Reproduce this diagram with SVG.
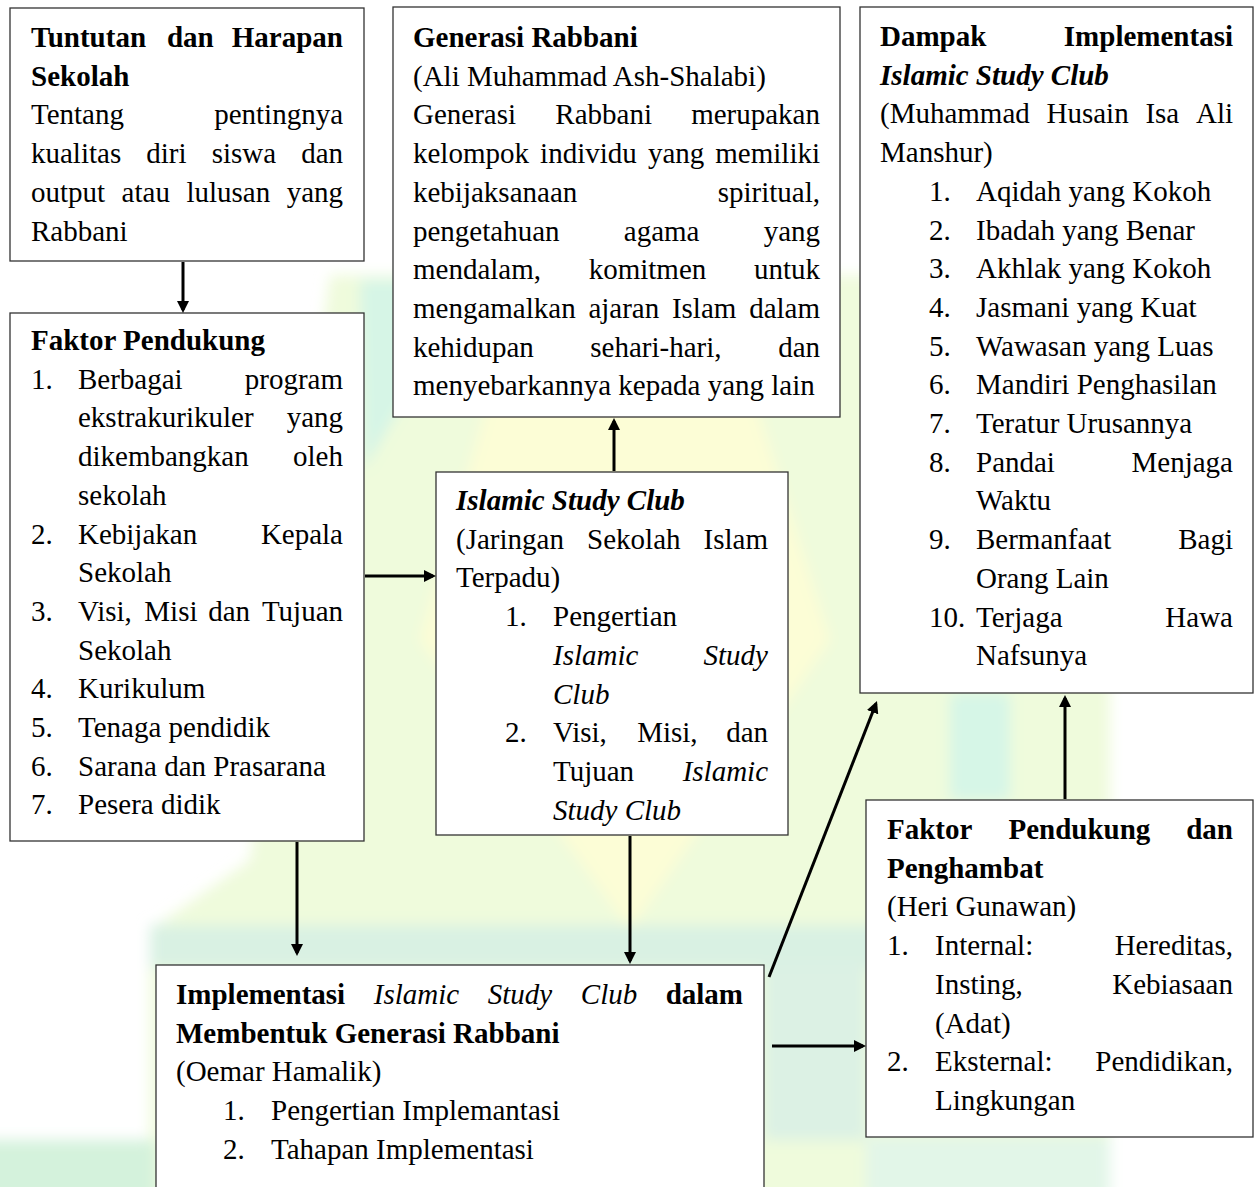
<svg xmlns="http://www.w3.org/2000/svg" width="1255" height="1187" viewBox="0 0 1255 1187">
<style>
text{font-family:"Liberation Serif","Times New Roman",serif;font-size:29px;fill:#000}
.b{font-weight:bold}
.i{font-style:italic}
.e{text-anchor:end}
.box{fill:#fff;stroke:#333;stroke-width:1.3}
.conn path{stroke:#000;stroke-width:3;fill:none;marker-end:url(#ah)}
</style>
<defs>
<marker id="ah" markerUnits="userSpaceOnUse" markerWidth="12" markerHeight="12" refX="9" refY="6" orient="auto"><path d="M0,0 L12,6 L0,12 z" fill="#000"/></marker>
<filter id="soft" x="-5%" y="-5%" width="110%" height="110%"><feGaussianBlur stdDeviation="7"/></filter>
</defs>
<rect width="1255" height="1187" fill="#fff"/>

<g id="watermark" filter="url(#soft)">
<path d="M330,275 L1000,275 L1110,690 L1110,1200 L150,1200 L150,930 L250,860 Z" fill="#effbdc"/>
<path d="M520,290 L720,290 L830,640 L630,930 L420,640 Z" fill="#fcfdd6"/>
<path d="M360,280 L445,280 L445,330 L364,470 Z" fill="#d6f5e6"/>
<path d="M150,925 L880,925 L880,968 L150,968 Z" fill="#d9f1e3"/>
<path d="M764,965 L866,965 L866,1140 L764,1140 Z" fill="#dcf1e4"/>
<path d="M950,693 L1010,693 L1010,800 L950,800 Z" fill="#d6f6e7"/>
<path d="M-20,1140 L156,1140 L156,1200 L-20,1200 Z" fill="#d4f2dc"/>
<path d="M866,1137 L1110,1137 L1110,1200 L866,1200 Z" fill="#e2f6e8"/>
</g>

<g id="n-tuntutan">
<rect class="box" x="10" y="8" width="354" height="253"/>
<text class="b" x="31" y="47">Tuntutan</text><text class="b" x="166.9" y="47">dan</text><text class="b e" x="343" y="47">Harapan</text>
<text class="b" x="31" y="85.7">Sekolah</text>
<text x="31" y="124.4">Tentang</text><text class="e" x="343" y="124.4">pentingnya</text>
<text x="31" y="163.1">kualitas</text><text x="146.3" y="163.1">diri</text><text x="211.7" y="163.1">siswa</text><text class="e" x="343" y="163.1">dan</text>
<text x="31" y="201.8">output</text><text x="121.6" y="201.8">atau</text><text x="186.4" y="201.8">lulusan</text><text class="e" x="343" y="201.8">yang</text>
<text x="31" y="240.5">Rabbani</text>
</g>

<g id="n-generasi">
<rect class="box" x="393" y="7" width="447" height="410"/>
<text class="b" x="413" y="47">Generasi Rabbani</text>
<text x="413" y="85.7">(Ali Muhammad Ash-Shalabi)</text>
<text x="413" y="124.4">Generasi</text><text x="555.3" y="124.4">Rabbani</text><text class="e" x="820" y="124.4">merupakan</text>
<text x="413" y="163.1">kelompok</text><text x="540.1" y="163.1">individu</text><text x="647.9" y="163.1">yang</text><text class="e" x="820" y="163.1">memiliki</text>
<text x="413" y="201.8">kebijaksanaan</text><text class="e" x="820" y="201.8">spiritual,</text>
<text x="413" y="240.5">pengetahuan</text><text x="623.8" y="240.5">agama</text><text class="e" x="820" y="240.5">yang</text>
<text x="413" y="279.2">mendalam,</text><text x="588.7" y="279.2">komitmen</text><text class="e" x="820" y="279.2">untuk</text>
<text x="413" y="317.9">mengamalkan</text><text x="588.4" y="317.9">ajaran</text><text x="671.9" y="317.9">Islam</text><text class="e" x="820" y="317.9">dalam</text>
<text x="413" y="356.6">kehidupan</text><text x="590.3" y="356.6">sehari-hari,</text><text class="e" x="820" y="356.6">dan</text>
<text x="413" y="395.3">menyebarkannya kepada yang lain</text>
</g>

<g id="n-dampak">
<rect class="box" x="860" y="7" width="393" height="686"/>
<text class="b" x="880" y="46">Dampak</text><text class="b e" x="1233" y="46">Implementasi</text>
<text class="b i" x="880" y="84.7">Islamic Study Club</text>
<text x="880" y="123.4">(Muhammad</text><text x="1046.5" y="123.4">Husain</text><text x="1145.4" y="123.4">Isa</text><text class="e" x="1233" y="123.4">Ali</text>
<text x="880" y="162.1">Manshur)</text>
<text x="929" y="200.8">1.</text><text x="976" y="200.8">Aqidah yang Kokoh</text>
<text x="929" y="239.5">2.</text><text x="976" y="239.5">Ibadah yang Benar</text>
<text x="929" y="278.2">3.</text><text x="976" y="278.2">Akhlak yang Kokoh</text>
<text x="929" y="316.9">4.</text><text x="976" y="316.9">Jasmani yang Kuat</text>
<text x="929" y="355.6">5.</text><text x="976" y="355.6">Wawasan yang Luas</text>
<text x="929" y="394.3">6.</text><text x="976" y="394.3">Mandiri Penghasilan</text>
<text x="929" y="433">7.</text><text x="976" y="433">Teratur Urusannya</text>
<text x="929" y="471.7">8.</text><text x="976" y="471.7">Pandai</text><text class="e" x="1233" y="471.7">Menjaga</text>
<text x="976" y="510.4">Waktu</text>
<text x="929" y="549.1">9.</text><text x="976" y="549.1">Bermanfaat</text><text class="e" x="1233" y="549.1">Bagi</text>
<text x="976" y="587.8">Orang Lain</text>
<text x="929" y="626.5">10.</text><text x="976" y="626.5">Terjaga</text><text class="e" x="1233" y="626.5">Hawa</text>
<text x="976" y="665.2">Nafsunya</text>
</g>

<g id="n-faktor">
<rect class="box" x="10" y="313" width="354" height="528"/>
<text class="b" x="31" y="350">Faktor Pendukung</text>
<text x="31" y="388.7">1.</text><text x="78" y="388.7">Berbagai</text><text class="e" x="343" y="388.7">program</text>
<text x="78" y="427.4">ekstrakurikuler</text><text class="e" x="343" y="427.4">yang</text>
<text x="78" y="466.1">dikembangkan</text><text class="e" x="343" y="466.1">oleh</text>
<text x="78" y="504.8">sekolah</text>
<text x="31" y="543.5">2.</text><text x="78" y="543.5">Kebijakan</text><text class="e" x="343" y="543.5">Kepala</text>
<text x="78" y="582.2">Sekolah</text>
<text x="31" y="620.9">3.</text><text x="78" y="620.9">Visi,</text><text x="144.3" y="620.9">Misi</text><text x="208.2" y="620.9">dan</text><text class="e" x="343" y="620.9">Tujuan</text>
<text x="78" y="659.6">Sekolah</text>
<text x="31" y="698.3">4.</text><text x="78" y="698.3">Kurikulum</text>
<text x="31" y="737">5.</text><text x="78" y="737">Tenaga pendidik</text>
<text x="31" y="775.7">6.</text><text x="78" y="775.7">Sarana dan Prasarana</text>
<text x="31" y="814.4">7.</text><text x="78" y="814.4">Pesera didik</text>
</g>

<g id="n-isc">
<rect class="box" x="436" y="472" width="352" height="363"/>
<text class="b i" x="456" y="510">Islamic Study Club</text>
<text x="456" y="548.7">(Jaringan</text><text x="587.1" y="548.7">Sekolah</text><text class="e" x="768" y="548.7">Islam</text>
<text x="456" y="587.4">Terpadu)</text>
<text x="505" y="626.1">1.</text><text x="553" y="626.1">Pengertian</text>
<text class="i" x="553" y="664.8">Islamic</text><text class="i e" x="768" y="664.8">Study</text>
<text class="i" x="553" y="703.5">Club</text>
<text x="505" y="742.2">2.</text><text x="553" y="742.2">Visi,</text><text x="637.2" y="742.2">Misi,</text><text class="e" x="768" y="742.2">dan</text>
<text x="553" y="780.9">Tujuan</text><text class="i e" x="768" y="780.9">Islamic</text>
<text class="i" x="553" y="819.6">Study Club</text>
</g>

<g id="n-implementasi">
<rect class="box" x="156" y="965" width="608" height="240"/>
<text class="b" x="176" y="1004">Implementasi</text><text class="i" x="373.8" y="1004">Islamic</text><text class="i" x="487.8" y="1004">Study</text><text class="i" x="580.8" y="1004">Club</text><text class="b e" x="743" y="1004">dalam</text>
<text class="b" x="176" y="1042.7">Membentuk Generasi Rabbani</text>
<text x="176" y="1081.4">(Oemar Hamalik)</text>
<text x="223" y="1120.1">1.</text><text x="271" y="1120.1">Pengertian Implemantasi</text>
<text x="223" y="1158.8">2.</text><text x="271" y="1158.8">Tahapan Implementasi</text>
</g>

<g id="n-penghambat">
<rect class="box" x="866" y="800" width="387" height="337"/>
<text class="b" x="887" y="839">Faktor</text><text class="b" x="1008.5" y="839">Pendukung</text><text class="b e" x="1233" y="839">dan</text>
<text class="b" x="887" y="877.7">Penghambat</text>
<text x="887" y="916.4">(Heri Gunawan)</text>
<text x="887" y="955.1">1.</text><text x="935" y="955.1">Internal:</text><text class="e" x="1233" y="955.1">Hereditas,</text>
<text x="935" y="993.8">Insting,</text><text class="e" x="1233" y="993.8">Kebiasaan</text>
<text x="935" y="1032.5">(Adat)</text>
<text x="887" y="1071.2">2.</text><text x="935" y="1071.2">Eksternal:</text><text class="e" x="1233" y="1071.2">Pendidikan,</text>
<text x="935" y="1109.9">Lingkungan</text>
</g>

<g id="connectors" class="conn">
<path d="M183,262 V310"/>
<path d="M365,576 H433"/>
<path d="M614,471 V421"/>
<path d="M297,842 V953"/>
<path d="M630,836 V961"/>
<path d="M769,977 L875.9,703.8"/>
<path d="M772,1046 H863"/>
<path d="M1065,799 V698"/>
</g>
</svg>
